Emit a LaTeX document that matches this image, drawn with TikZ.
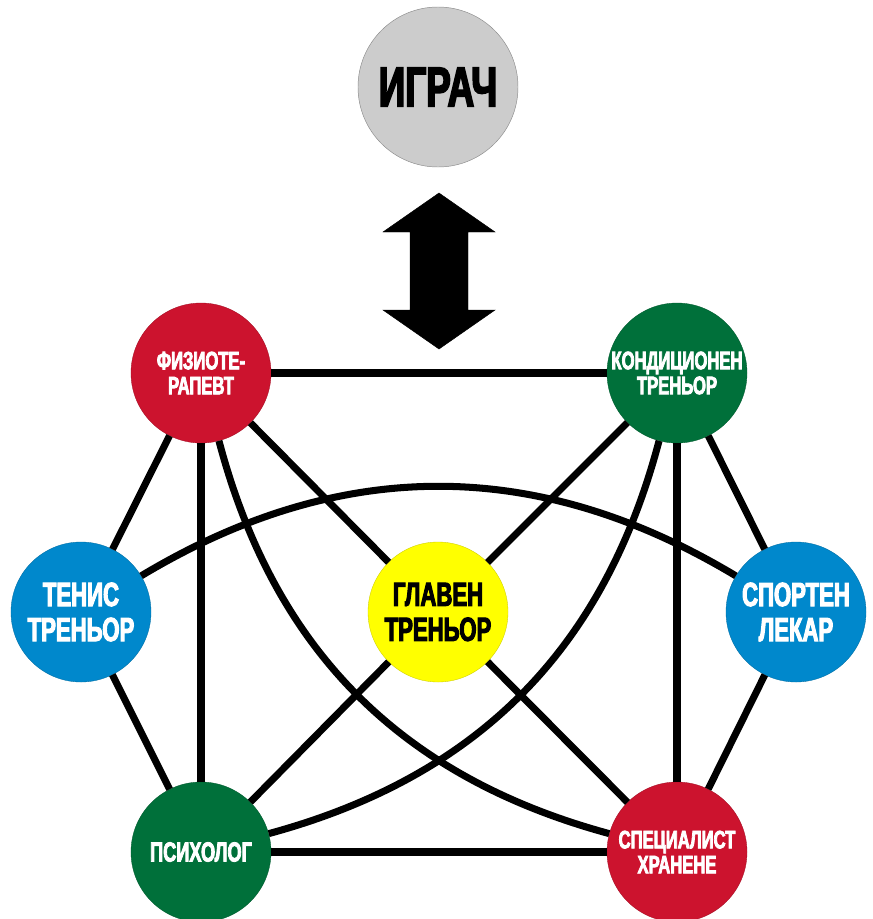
\documentclass[tikz,border=0pt]{standalone}
\usepackage{fontspec}
\usepackage{tikz}
\usetikzlibrary{calc}
\newfontfamily\lblfont[UprightFont={* Bold},FakeStretch=0.66,FakeBold=3]{Liberation Sans}
\definecolor{deepRed}{RGB}{204, 19, 46}
\definecolor{deepGreen}{RGB}{0, 112, 58}
\definecolor{skyBlue}{RGB}{0, 136, 204}
\definecolor{lightGray}{RGB}{204, 204, 204}
\definecolor{pureYellow}{RGB}{255, 255, 0}
\tikzset{
    member/.style={circle, minimum size=4.2cm, inner sep=0pt, align=center, text=white, draw=#1!80!black, line width=0.3pt, fill=#1},
    bigtext/.style={font=\lblfont\fontsize{28.6}{29.9}\selectfont},
    smalltext/.style={font=\lblfont\fontsize{21.5}{21.3}\selectfont},
    link/.style={line width=6pt}
}
\begin{document}
\begin{tikzpicture}[x=0.03cm, y=-0.03cm]
    \useasboundingbox (0,0) rectangle (873,919);
    % the player and the team
    \node[circle, minimum size=4.8cm, inner sep=0pt, fill=lightGray, draw=black!45, line width=0.4pt,
          font=\lblfont\fontsize{47.7}{48}\selectfont] (igrac) at (438,87) {ИГРАЧ};
    \node[member=deepRed, smalltext] (fizio) at (201,373) {ФИЗИОТЕ-\\РАПЕВТ};
    \node[member=deepGreen, smalltext] (kondicija) at (677,373) {КОНДИЦИОНЕН\\ТРЕНЬОР};
    \node[member=skyBlue, bigtext] (tenis) at (81,612) {ТЕНИС\\ТРЕНЬОР};
    \node[member=pureYellow, bigtext, text=black] (glaven) at (438,612) {ГЛАВЕН\\ТРЕНЬОР};
    \node[member=skyBlue, bigtext] (lekar) at (796,612) {СПОРТЕН\\ЛЕКАР};
    \node[member=deepGreen, font=\lblfont\fontsize{23.5}{24}\selectfont] (psiholog) at (201,852) {ПСИХОЛОГ};
    \node[member=deepRed, smalltext] (hrana) at (677,852) {СПЕЦИАЛИСТ\\ХРАНЕНЕ};
    % double arrow
    \draw[fill=black] (439,193) -- (495,232) -- (468,232) -- (468,310) -- (495,310) -- (439,349)
        -- (383,310) -- (410,310) -- (410,232) -- (383,232) -- cycle;
    % connections
    \draw[link] (fizio) -- (kondicija);
    \draw[link] (fizio) -- (tenis);
    \draw[link] (fizio) -- (psiholog);
    \draw[link] (fizio) -- (glaven);
    \draw[link] (fizio) to[bend right=30] (hrana);
    \draw[link] (kondicija) -- (glaven);
    \draw[link] (kondicija) -- (lekar);
    \draw[link] (kondicija) -- (hrana);
    \draw[link] (kondicija) to[bend left=30] (psiholog);
    \draw[link] (tenis) -- (psiholog);
    \draw[link] (tenis) to[bend left=31] (lekar);
    \draw[link] (lekar) -- (hrana);
    \draw[link] (glaven) -- (psiholog);
    \draw[link] (glaven) -- (hrana);
    \draw[link] (psiholog) -- (hrana);
\end{tikzpicture}
\end{document}
